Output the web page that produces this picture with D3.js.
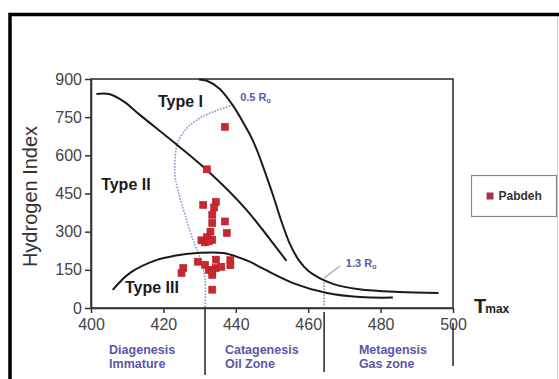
<!DOCTYPE html>
<html>
<head>
<meta charset="utf-8">
<script src="https://cdn.jsdelivr.net/npm/d3@7"></script>
<style>
  body { margin: 0; background: #fff; }
  svg { display: block; font-family: "Liberation Sans", Arial, sans-serif; }
</style>
</head>
<body>
<svg id="chart" width="559" height="379"></svg>
<script>
// Tmax (°C) vs Hydrogen Index (mg HC/g TOC)
const xTicks = [400, 420, 440, 460, 480, 500];
const yTicks = [0, 150, 300, 450, 600, 750, 900];

const typeI = [[429.8, 898], [432, 893], [435.5, 862], [439, 800], [442, 730], [445, 649],
  [450, 455], [452.5, 345], [455, 250], [457.5, 186], [460, 146], [463, 118], [467, 94],
  [474, 74], [485, 63], [496, 59]];
const typeII = [[401.5, 841], [405, 841], [409, 812], [413.5, 759], [423.8, 641], [432, 542],
  [443, 385], [454, 185]];
const typeIII = [[406, 71], [410.8, 138], [418.2, 189], [423, 205], [429.3, 216], [436.5, 216],
  [444, 181], [446.7, 161], [455.8, 98], [465.2, 59], [474.3, 43], [483.4, 41]];
const ro05 = [[439.2, 798], [434.5, 775], [430.1, 747], [426.5, 707], [424, 652], [423.3, 600],
  [423.2, 523], [424, 463], [426, 365], [428.2, 267], [430.1, 200], [431.5, 110], [431.5, 0]];
const ro13 = [[464.4, 0], [464.4, 118]];
const ro13Leader = [[464.4, 118], [468.8, 165]];

const pabdeh = [[437, 712], [432, 545], [431, 405], [434.5, 417], [434, 395], [433.5, 366],
  [437, 340], [433.5, 334], [437.5, 295], [433, 300], [432, 278], [430.5, 266], [433.5, 268],
  [431.5, 258], [432.5, 262], [425.5, 157], [425, 138], [429.5, 182], [431.5, 170], [434.5, 190],
  [438.5, 188], [438.5, 168], [432.5, 150], [434.5, 157], [433.5, 130], [436, 162], [433.5, 143],
  [433.5, 72]];

const typeLabels = [["Type I", 418.5, 790], ["Type II", 402.8, 462], ["Type III", 409.4, 60]];
const zones = [["Diagenesis", "Immature", 405], ["Catagenesis", "Oil Zone", 437], ["Metagensis", "Gas zone", 474]];
const zoneBounds = [[431.5, 0, 67], [464.4, 4, 64], [500, 15, 58]];

const svg = d3.select('#chart');
const x = d3.scaleLinear().domain([400, 500]).range([91, 453]);
const y = d3.scaleLinear().domain([0, 900]).range([308, 79]);
const purple = '#5b57a8';
const dotted = '#8c8cc8';

// outer figure frame
svg.append('rect').attr('x', 10).attr('y', 14.5).attr('width', 560).attr('height', 380)
  .attr('fill', 'none').attr('stroke', '#000').attr('stroke-width', 3.5);
svg.append('line').attr('x1', 557.5).attr('x2', 557.5).attr('y1', 17).attr('y2', 379)
  .attr('stroke', '#ccc').attr('stroke-width', 1);

// plot frame
svg.append('rect').attr('x', x(400)).attr('y', y(900)).attr('width', x(500) - x(400))
  .attr('height', y(0) - y(900)).attr('fill', 'none').attr('stroke', '#333').attr('stroke-width', 1.6);

const xAxis = svg.append('g').attr('transform', `translate(0,${y(0)})`)
  .call(d3.axisBottom(x).tickValues(xTicks).tickSize(5).tickPadding(6).tickSizeOuter(0));
const yAxis = svg.append('g').attr('transform', `translate(${x(400)},0)`)
  .call(d3.axisLeft(y).tickValues(yTicks).tickSize(6).tickPadding(3).tickSizeOuter(0));
[xAxis, yAxis].forEach(a => {
  a.select('.domain').attr('stroke', '#333').attr('stroke-width', 1.6);
  a.selectAll('.tick line').attr('stroke', '#333').attr('stroke-width', 1.5);
  a.selectAll('.tick text').attr('fill', '#444').attr('font-size', 16)
    .attr('font-family', '"Liberation Sans", Arial, sans-serif');
});

svg.append('text').attr('transform', `translate(37,${(y(0) + y(900)) / 2 + 3}) rotate(-90)`)
  .attr('text-anchor', 'middle').attr('font-size', 20).attr('fill', '#333').text('Hydrogen Index');

const tmax = svg.append('text').attr('x', 474).attr('y', 313).attr('font-weight', 'bold').attr('fill', '#222');
tmax.append('tspan').attr('font-size', 20).text('T');
tmax.append('tspan').attr('font-size', 12).attr('dx', -1).text('max');

// zone boundaries below the axis
svg.selectAll('.zb').data(zoneBounds).join('line').attr('class', 'zb')
  .attr('x1', d => x(d[0])).attr('x2', d => x(d[0]))
  .attr('y1', d => y(0) + d[1]).attr('y2', d => y(0) + d[2])
  .attr('stroke', '#333').attr('stroke-width', 1.6);

const zt = svg.selectAll('.zone').data(zones).join('text').attr('class', 'zone')
  .attr('font-size', 12.5).attr('font-weight', 'bold').attr('fill', purple);
zt.append('tspan').attr('x', d => x(d[2])).attr('y', 354).text(d => d[0]);
zt.append('tspan').attr('x', d => x(d[2])).attr('y', 368).text(d => d[1]);

const line = d3.line().x(d => x(d[0])).y(d => y(d[1])).curve(d3.curveCatmullRom.alpha(0.5));

// vitrinite reflectance isolines
svg.append('path').datum(ro05).attr('d', line).attr('fill', 'none')
  .attr('stroke', dotted).attr('stroke-width', 1.6).attr('stroke-dasharray', '1.5,1.5');
svg.append('path').datum(ro13).attr('d', d3.line().x(d => x(d[0])).y(d => y(d[1])))
  .attr('fill', 'none').attr('stroke', '#666').attr('stroke-width', 1.2).attr('stroke-dasharray', '1.5,1.5');
svg.append('path').datum(ro13Leader).attr('d', d3.line().x(d => x(d[0])).y(d => y(d[1])))
  .attr('fill', 'none').attr('stroke', '#aaa').attr('stroke-width', 1.5);

[['0.5 R', 441.2, 812], ['1.3 R', 470.4, 163]].forEach(([t, vx, vy]) => {
  const lab = svg.append('text').attr('x', x(vx)).attr('y', y(vy)).attr('font-size', 11)
    .attr('font-weight', 'bold').attr('fill', purple);
  lab.append('tspan').text(t);
  lab.append('tspan').attr('font-size', 7).attr('dy', 2).text('o');
});

// kerogen type curves
svg.selectAll('.kero').data([typeI, typeII, typeIII]).join('path').attr('class', 'kero')
  .attr('d', line).attr('fill', 'none').attr('stroke', '#1a1a1a').attr('stroke-width', 2);

svg.selectAll('.tl').data(typeLabels).join('text').attr('class', 'tl')
  .attr('x', d => x(d[1])).attr('y', d => y(d[2])).attr('font-size', 16)
  .attr('font-weight', 'bold').attr('fill', '#1a1a1a').text(d => d[0]);

// samples
const sz = 7;
svg.selectAll('.pt').data(pabdeh).join('rect').attr('class', 'pt')
  .attr('x', d => x(d[0]) - sz / 2).attr('y', d => y(d[1]) - sz / 2)
  .attr('width', sz).attr('height', sz).attr('fill', '#c8282e').attr('stroke', '#b01f25').attr('stroke-width', 0.6);

// legend
const lg = svg.append('g').attr('transform', 'translate(471.5,175.5)');
lg.append('rect').attr('width', 85).attr('height', 41).attr('fill', '#fff')
  .attr('stroke', '#888').attr('stroke-width', 1.2);
lg.append('rect').attr('x', 15).attr('y', 17).attr('width', sz).attr('height', sz).attr('fill', '#a8324a');
lg.append('text').attr('x', 27).attr('y', 24.5).attr('font-size', 12).attr('font-weight', 'bold')
  .attr('fill', '#333').text('Pabdeh');
</script>
</body>
</html>
